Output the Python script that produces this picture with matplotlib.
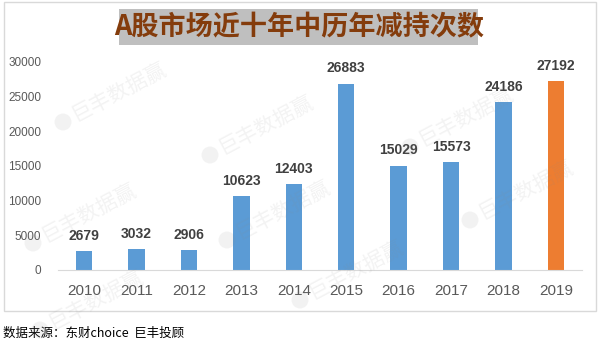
import matplotlib
matplotlib.use('Agg')
import matplotlib.pyplot as plt
from matplotlib.patches import Rectangle, Ellipse

years = ['2010', '2011', '2012', '2013', '2014', '2015', '2016', '2017', '2018', '2019']
counts = [2679, 3032, 2906, 10623, 12403, 26883, 15029, 15573, 24186, 27192]
colors = ['#5B9BD5'] * 9 + ['#ED7D31']
yticks = [0, 5000, 10000, 15000, 20000, 25000, 30000]

title = 'A股市场近十年中历年减持次数'
source = '数据来源：东财choice  巨丰投顾'
mark = '巨丰数据赢'

plt.rcParams['font.family'] = ['Liberation Sans', 'Noto Sans CJK SC', 'DejaVu Sans']

W, H = 607, 353
fig = plt.figure(figsize=(W / 100, H / 100), dpi=100)


def fx(px):
    return px / W


def fy(py):
    return 1 - py / H


# outer frame
fig.patches.append(Rectangle((fx(4), fy(311)), fx(592), 309 / H, transform=fig.transFigure,
                             fill=False, edgecolor='#d9d9d9', lw=1))

ax = fig.add_axes([fx(58), fy(270), fx(524), 208 / H])
x = range(len(years))
ax.bar(x, counts, width=0.31, color=colors, zorder=2)
for i, v in enumerate(counts):
    ax.annotate(str(v), (i, v), xytext=(0, 6), textcoords='offset points',
                ha='center', va='bottom', fontsize=10, fontweight='bold', color='#404040')

ax.set_xlim(-0.5, len(years) - 0.5)
ax.set_ylim(0, 30000)
ax.set_yticks(yticks)
ax.set_yticklabels([str(t) for t in yticks], fontsize=8.5, color='#595959')
ax.set_xticks(list(x))
ax.set_xticklabels(years, fontsize=11, color='#595959')
ax.tick_params(axis='y', length=0, pad=12)
ax.tick_params(axis='x', length=0, pad=10)
for s in ['top', 'right', 'left']:
    ax.spines[s].set_visible(False)
ax.spines['bottom'].set_color('#d9d9d9')
ax.patch.set_visible(False)

# title box
fig.patches.append(Rectangle((fx(119), fy(45)), fx(359), 36 / H, transform=fig.transFigure,
                             facecolor='#bfbfbf', edgecolor='none'))
fig.text(fx(299), fy(27.5), title, ha='center', va='center', fontsize=19.5, fontweight='bold',
         color='#843C0C', family=['Noto Sans CJK SC', 'DejaVu Sans'])

fig.text(fx(3), fy(333), source, ha='left', va='center', fontsize=9, color='black',
         family=['Noto Sans CJK SC', 'DejaVu Sans'])

# watermarks
marks = [(63, 122), (210, 155), (33, 243), (227, 240), (410, 147), (470, 220), (300, 300), (40, 330)]
for mx, my in marks:
    fig.patches.append(Ellipse((fx(mx), fy(my)), fx(17), 17 / H, transform=fig.transFigure,
                               facecolor='#888888', edgecolor='none', alpha=0.1, zorder=5))
    fig.text(fx(mx + 10), fy(my - 6), mark, ha='left', va='center', rotation=28,
             rotation_mode='anchor', fontsize=15, color='#888888', alpha=0.1, zorder=5,
             family=['Noto Sans CJK SC', 'DejaVu Sans'])

fig.savefig('out.png', dpi=100)
